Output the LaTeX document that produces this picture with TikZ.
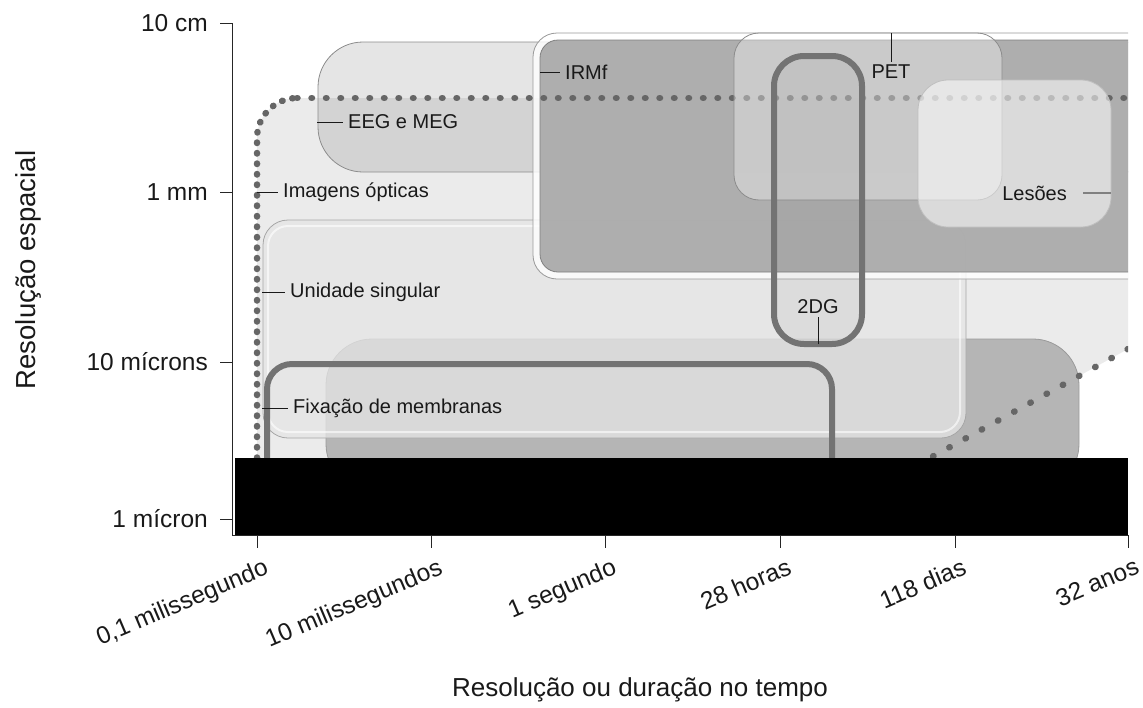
\documentclass[tikz,border=0pt]{standalone}
\usepackage{fontspec}
\setmainfont{Liberation Sans}
\usetikzlibrary{positioning}

\tikzset{
	lbl/.style={inner xsep=5pt,inner ysep=3pt,text=black!90,font=\fontsize{20}{24}\selectfont},
	axlbl/.style={inner sep=0pt,text=black!90,font=\fontsize{24.5}{30}\selectfont},
	title/.style={inner sep=0pt,text=black!90,font=\fontsize{26}{32}\selectfont},
	pointer/.style={draw=black!90,line width=0.9pt},
	softbox/.style={draw=black!45,line width=0.8pt},
	heavybox/.style={draw=black!55,line width=6pt},
	dotline/.style={draw=black!60,line width=6.5pt,line cap=round,dash pattern=on 0.5pt off #1},
}

\begin{document}
\begin{tikzpicture}[x=1pt,y=-1pt]
	\useasboundingbox (0,0) rectangle (1143,707);
	\begin{scope}
		\clip (233,0) rectangle (1128,535);
		% regions
		\fill[black,fill opacity=0.08] (257,470) -- (257,138) .. controls (257,116) and (275,98) .. (297,98) -- (1128,98) -- (1128,349) -- (930,458) -- (908,470) -- cycle;
		\draw[softbox,fill=black,fill opacity=0.10,rounded corners=45] (318,42) rectangle (1170,172);
		\draw[draw=black!40,line width=0.8pt,fill=black!29,rounded corners=46] (326,339) rectangle (1079,490);
		\draw[draw=black!35,line width=0.8pt,fill=black!10,fill opacity=0.76,rounded corners=25] (263,220) rectangle (966,438);
		\draw[white,line width=2pt,opacity=0.6,rounded corners=20] (268,226) rectangle (960,432);
		\draw[heavybox,rounded corners=25] (267,364) rectangle (832,490);
		\draw[draw=black!40,fill=white,fill opacity=0.8,line width=0.8pt,rounded corners=24] (533,33) rectangle (1170,279);
		\draw[draw=black!50,fill=black!34,fill opacity=0.92,line width=0.8pt,rounded corners=18] (540,40) rectangle (1170,272);
		\draw[dotline=10pt] (257,458) -- (257,138) .. controls (257,116) and (275,98) .. (297,98);
		\draw[dotline=14pt] (297,98) -- (1135,98);
		\draw[dotline=18pt] (1128,349) -- (930,458);
		\draw[softbox,fill=white,fill opacity=0.35,rounded corners=25] (734,33) rectangle (1002,200);
		\draw[draw=black!25,line width=0.8pt,fill=white,fill opacity=0.55,rounded corners=30] (918,80) rectangle (1111,227);
		\draw[heavybox,fill=black,fill opacity=0.04,rounded corners=30] (774,56) rectangle (862,344);
		\fill[black] (235,458) rectangle (1128,535);
	\end{scope}

	% labels
	\coordinate (opt-t) at (257,192);
	\node[lbl,right=21pt of opt-t] (opt) {Imagens ópticas};
	\draw[pointer] (opt-t) -- (opt.west);
	\coordinate (eeg-t) at (317,122);
	\node[lbl,right=26pt of eeg-t] (eeg) {EEG e MEG};
	\draw[pointer] (eeg-t) -- (eeg.west);
	\coordinate (irmf-t) at (540,72);
	\node[lbl,right=20pt of irmf-t] (irmf) {IRMf};
	\draw[pointer] (irmf-t) -- (irmf.west);
	\coordinate (uni-t) at (262,292);
	\node[lbl,right=23pt of uni-t] (uni) {Unidade singular};
	\draw[pointer] (uni-t) -- (uni.west);
	\coordinate (fix-t) at (262,408);
	\node[lbl,right=26pt of fix-t] (fix) {Fixação de membranas};
	\draw[pointer] (fix-t) -- (fix.west);
	\coordinate (pet-t) at (891,33);
	\node[lbl,below=29pt of pet-t] (pet) {PET};
	\draw[pointer] (pet-t) -- (pet.north);
	\coordinate (dg-t) at (818,344);
	\node[lbl,above=27pt of dg-t] (dg) {2DG};
	\draw[pointer] (dg-t) -- (dg.south);
	\coordinate (les-t) at (1111,193);
	\node[lbl,left=39pt of les-t] (les) {Lesões};
	\draw[draw=black!50,line width=1.2pt] (les-t) -- ++(-28,0);

	% axes
	\draw[black!85,line width=1pt] (220,23) -- (232,23) -- (232,535) -- (1128,535);
	\foreach \y in {192,362,519}
		\draw[black!85,line width=1pt] (220,\y) -- (232,\y);
	\foreach \x in {257,431,605,780,955,1128}
		\draw[black!85,line width=1pt] (\x,535) -- (\x,548);
	\node[axlbl,anchor=east] (y1) at (208,23) {10 cm};
	\node[axlbl,anchor=east] (y2) at (208,192) {1 mm};
	\node[axlbl,anchor=east] (y3) at (208,362) {10 mícrons};
	\node[axlbl,anchor=east] (y4) at (208,519) {1 mícron};
	\foreach \x/\t [count=\i] in {257/{0,1 milissegundo},431/{10 milissegundos},605/{1 segundo},780/{28 horas},955/{118 dias},1128/{32 anos}}
		\node[axlbl,rotate=23,anchor=north east] (xt\i) at (\x+6,557) {\t};
	\node[title,rotate=90,font=\fontsize{27.5}{32}\selectfont] (ytitle) at (28,270) {Resolução espacial};
	\node[title] (xtitle) at (640,690) {Resolução ou duração no tempo};
\end{tikzpicture}
\end{document}
